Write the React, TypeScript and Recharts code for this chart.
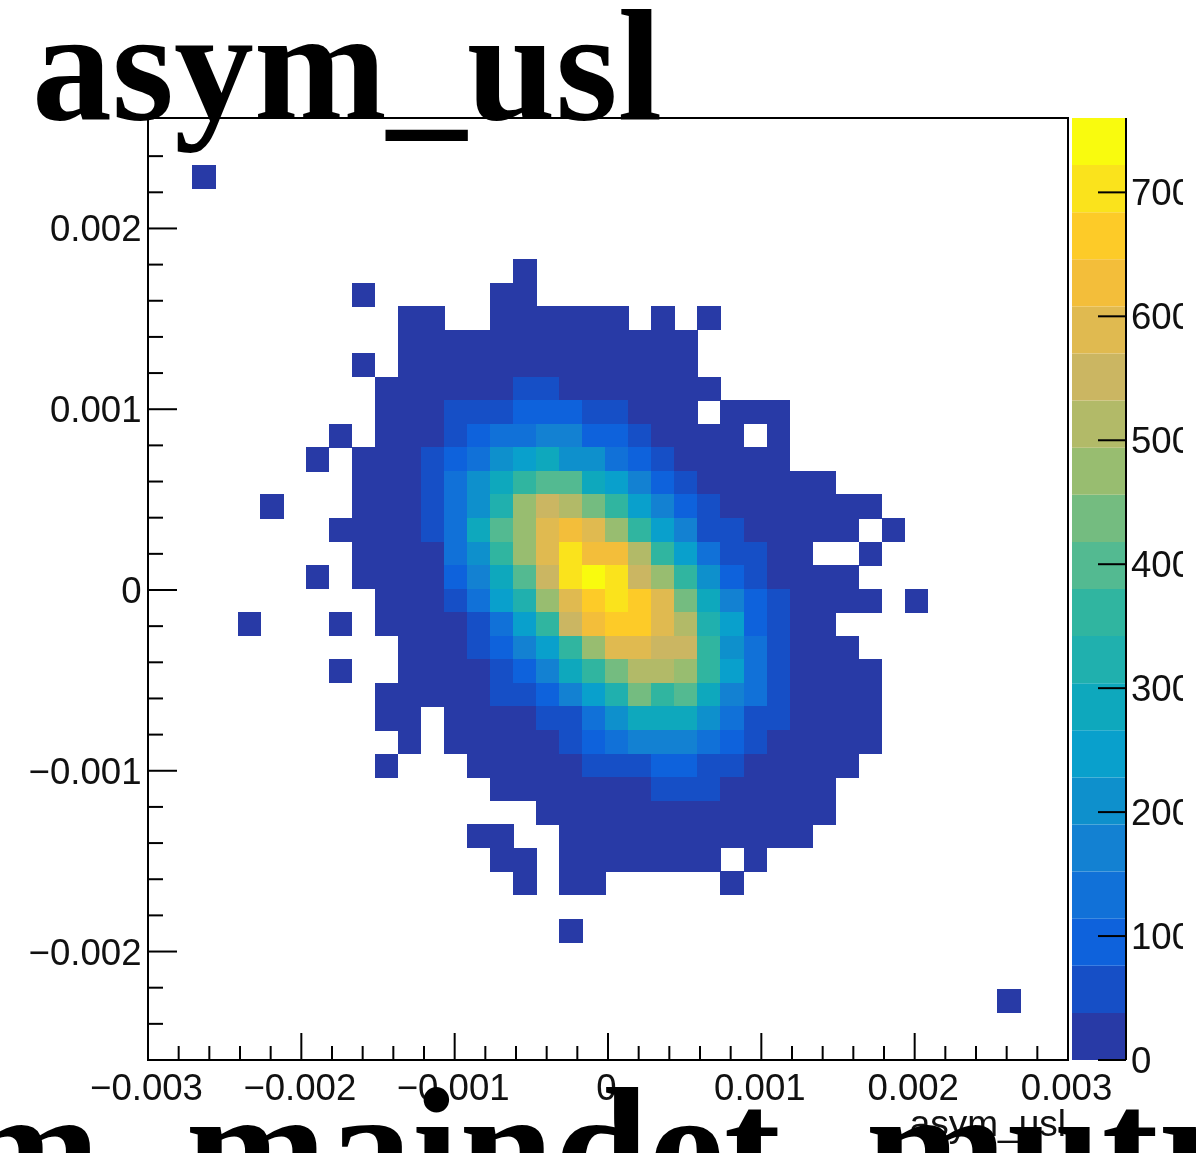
import React from 'react';
import { ScatterChart, Scatter, XAxis, YAxis, ReferenceArea, BarChart, Bar } from 'recharts';

const e = -1;

// Bin centres
const xBinCenters = [
  -0.002633, -0.002496, -0.002339, -0.002191, -0.002045, -0.001895, -0.001745, -0.001594, -0.001444,
  -0.001294, -0.001143, -0.000993, -0.000843, -0.000692, -0.000542, -0.000392, -0.000242, -0.000091,
  0.000059, 0.000209, 0.00036, 0.00051, 0.00066, 0.00081, 0.000961, 0.001111, 0.001261, 0.001412,
  0.001562, 0.001712, 0.001863, 0.002013, 0.002163, 0.002313, 0.002464, 0.002614,
];
const yBinCenters = [
  0.002546, 0.002416, 0.002286, 0.002155, 0.002025, 0.001895, 0.001764, 0.001634, 0.001504, 0.001374,
  0.001243, 0.001113, 0.000983, 0.000852, 0.000722, 0.000592, 0.000462, 0.000331, 0.000201, 0.000071,
  -0.00006, -0.00019, -0.00032, -0.00045, -0.000581, -0.000711, -0.000841, -0.000972, -0.001102, -0.001232,
  -0.001362, -0.001493, -0.001623, -0.001753, -0.001884, -0.002014, -0.002144, -0.002274, -0.002405, -0.002535,
];
const firstColumnOffset = 7;

// Contour band (0..19) of each filled bin: [row, first column, bands...]; e = empty bin
const rowBands: [number, number, number[]][] = [
  [2, -7, [0]],
  [6, 7, [0]],
  [7, 0, [0, e, e, e, e, e, 0, 0]],
  [8, 2, [0, 0, e, e, 0, 0, 0, 0, 0, 0, e, 0, e, 0]],
  [9, 2, [0, 0, 0, 0, 0, 0, 0, 0, 0, 0, 0, 0, 0]],
  [10, 0, [0, e, 0, 0, 0, 0, 0, 0, 0, 0, 0, 0, 0, 0, 0]],
  [11, 1, [0, 0, 0, 0, 0, 0, 1, 1, 0, 0, 0, 0, 0, 0, 0]],
  [12, 1, [0, 0, 0, 1, 1, 1, 2, 2, 2, 1, 1, 0, 0, 0, e, 0, 0, 0]],
  [13, -1, [0, e, 0, 0, 0, 1, 2, 3, 3, 4, 4, 2, 2, 1, 0, 0, 0, 0, e, 0]],
  [14, -2, [0, e, 0, 0, 0, 1, 2, 3, 5, 6, 7, 5, 5, 3, 2, 1, 0, 0, 0, 0, 0]],
  [15, 0, [0, 0, 0, 1, 3, 5, 7, 9, 10, 10, 7, 6, 4, 2, 1, 0, 0, 0, 0, 0, 0]],
  [16, -4, [0, e, e, e, 0, 0, 0, 1, 3, 5, 8, 12, 14, 13, 11, 9, 6, 4, 2, 1, 0, 0, 0, 0, 0, 0, 0]],
  [17, -1, [0, 0, 0, 0, 1, 3, 7, 10, 12, 15, 16, 15, 12, 9, 6, 4, 1, 1, 0, 0, 0, 0, 0, e, 0]],
  [18, 0, [0, 0, 0, 0, 3, 5, 9, 12, 15, 18, 16, 16, 13, 9, 6, 3, 1, 1, 0, 0, e, e, 0]],
  [19, -2, [0, e, 0, 0, 0, 0, 2, 4, 7, 10, 14, 18, 19, 18, 14, 12, 9, 5, 2, 1, 0, 0, 0, 0]],
  [20, 1, [0, 0, 0, 1, 3, 6, 8, 12, 15, 17, 18, 17, 15, 11, 7, 4, 2, 1, 0, 0, 0, 0, e, 0]],
  [21, -5, [0, e, e, e, 0, e, 0, 0, 0, 0, 1, 3, 6, 9, 14, 16, 17, 17, 15, 13, 8, 6, 2, 1, 0, 0]],
  [22, 2, [0, 0, 0, 1, 2, 4, 6, 9, 12, 15, 15, 14, 14, 9, 5, 3, 1, 0, 0, 0]],
  [23, -1, [0, e, e, 0, 0, 0, 0, 1, 2, 4, 7, 9, 11, 13, 13, 12, 9, 6, 3, 1, 0, 0, 0, 0]],
  [24, 1, [0, 0, 0, 0, 0, 1, 1, 2, 4, 6, 8, 11, 9, 10, 7, 4, 3, 1, 0, 0, 0, 0]],
  [25, 1, [0, 0, e, 0, 0, 0, 0, 1, 1, 3, 5, 7, 7, 7, 5, 3, 1, 1, 0, 0, 0, 0]],
  [26, 2, [0, e, 0, 0, 0, 0, 0, 1, 2, 3, 4, 4, 4, 3, 2, 1, 0, 0, 0, 0, 0]],
  [27, 1, [0, e, e, e, 0, 0, 0, 0, 0, 1, 1, 1, 2, 2, 1, 1, 0, 0, 0, 0, 0]],
  [28, 6, [0, 0, 0, 0, 0, 0, 0, 1, 1, 1, 0, 0, 0, 0, 0]],
  [29, 8, [0, 0, 0, 0, 0, 0, 0, 0, 0, 0, 0, 0, 0]],
  [30, 5, [0, 0, e, e, 0, 0, 0, 0, 0, 0, 0, 0, 0, 0, 0]],
  [31, 6, [0, 0, e, 0, 0, 0, 0, 0, 0, 0, e, 0]],
  [32, 7, [0, e, 0, 0, e, e, e, e, e, 0]],
  [34, 9, [0]],
  [37, 28, [0]],
];

// Count at the middle of each contour band
const bandCounts = [19, 57, 95, 133, 171, 209, 247, 285, 323, 361, 399, 437, 475, 513, 551, 589, 627, 665, 703, 741];
const bandColors = [
  '#283aa6', '#164fc6', '#0e62dc', '#1171d8', '#1381d2', '#0e90cc', '#09a0cc', '#0ea8bd', '#20b0ae', '#30b5a0',
  '#53ba91', '#74bc80', '#98bd70', '#b2ba68', '#cbb662', '#e0ba50', '#f3be3a', '#fdcb28', '#fae31c', '#f9fb0e',
];
const bandWidth = 38;

const xTicks = [
  -0.003, -0.0028, -0.0026, -0.0024, -0.0022, -0.002, -0.0018, -0.0016, -0.0014, -0.0012, -0.001, -0.0008, -0.0006,
  -0.0004, -0.0002, 0, 0.0002, 0.0004, 0.0006, 0.0008, 0.001, 0.0012, 0.0014, 0.0016, 0.0018, 0.002, 0.0022, 0.0024,
  0.0026, 0.0028, 0.003,
];
const yTicks = [
  -0.0024, -0.0022, -0.002, -0.0018, -0.0016, -0.0014, -0.0012, -0.001, -0.0008, -0.0006, -0.0004, -0.0002, 0, 0.0002,
  0.0004, 0.0006, 0.0008, 0.001, 0.0012, 0.0014, 0.0016, 0.0018, 0.002, 0.0022, 0.0024,
];
const zTicks = [0, 100, 200, 300, 400, 500, 600, 700];
const titleText = 'asym_usl';
const bottomTitleText = 'm_maindet_mutr';
const xAxisTitle = 'asym_usl';

const sans = '"Liberation Sans", Arial, sans-serif';
const serif = '"Liberation Serif", serif';
const labelSize = 36.6;

const cells = rowBands.flatMap(([row, first, bands]) =>
  bands.flatMap((band, i) =>
    band < 0
      ? []
      : [{ x: xBinCenters[first + i + firstColumnOffset], y: yBinCenters[row], count: bandCounts[band] }],
  ),
);

const isMajor = (v: number) => Math.abs(v * 1000 - Math.round(v * 1000)) < 1e-6;
const fmt = (v: number) => {
  if (Math.abs(v) < 1e-9) return '0';
  return (v < 0 ? '\u2212' : '') + Math.abs(v).toFixed(3);
};

const XTick = (p: any) => {
  const v = p.payload.value;
  const major = isMajor(v);
  return (
    <g>
      <line x1={p.x} x2={p.x} y1={1060} y2={1060 - (major ? 27 : 14)} stroke="#000" strokeWidth={2} />
      {major && (
        <text x={p.x - 1.5} y={1100} textAnchor="middle" fontFamily={sans} fontSize={labelSize} fill="#111">
          {fmt(v)}
        </text>
      )}
    </g>
  );
};

const YTick = (p: any) => {
  const v = p.payload.value;
  const major = isMajor(v);
  return (
    <g>
      <line x1={148} x2={148 + (major ? 29 : 15)} y1={p.y} y2={p.y} stroke="#000" strokeWidth={2} />
      {major && (
        <text x={141.5} y={p.y + 13} textAnchor="end" fontFamily={sans} fontSize={labelSize} fill="#111">
          {fmt(v)}
        </text>
      )}
    </g>
  );
};

const ZTick = (p: any) => (
  <g>
    <line x1={26} x2={54} y1={p.y} y2={p.y} stroke="#000" strokeWidth={2} />
    <text x={59} y={p.y + 13} textAnchor="start" fontFamily={sans} fontSize={labelSize} fill="#111">
      {p.payload.value}
    </text>
  </g>
);

const CellShape = (p: any) => {
  const w = 23.6;
  const h = 24.1;
  const band = Math.min(19, Math.floor(p.payload.count / bandWidth));
  const x0 = Math.round(p.cx - w / 2);
  const x1 = Math.round(p.cx + w / 2);
  const y0 = Math.round(p.cy - h / 2);
  const y1 = Math.round(p.cy + h / 2);
  return <rect x={x0} y={y0} width={x1 - x0} height={y1 - y0} fill={bandColors[band]} shapeRendering="crispEdges" />;
};

const colorbarRow: Record<string, number | string> = { name: 'z' };
bandColors.forEach((_, i) => {
  colorbarRow['b' + i] = bandWidth;
});

export default function App() {
  return (
    <div
      style={{
        position: 'absolute',
        left: 0,
        top: 0,
        width: 1196,
        height: 1153,
        overflow: 'hidden',
        background: '#fff',
        filter: 'blur(0.7px)',
      }}
    >
      <div style={{ position: 'absolute', left: 0, top: 0 }}>
        <ScatterChart width={1196} height={1153} margin={{ left: 88, right: 128, top: 118, bottom: 53 }}>
          <XAxis
            type="number"
            dataKey="x"
            domain={[-0.003, 0.003]}
            ticks={xTicks}
            interval={0}
            allowDataOverflow
            height={40}
            tick={XTick}
            tickLine={false}
            tickSize={0}
            tickMargin={0}
            axisLine={{ stroke: '#000', strokeWidth: 2 }}
          />
          <YAxis
            type="number"
            dataKey="y"
            domain={[-0.0026, 0.002611]}
            ticks={yTicks}
            interval={0}
            allowDataOverflow
            width={60}
            tick={YTick}
            tickLine={false}
            tickSize={0}
            tickMargin={0}
            axisLine={{ stroke: '#000', strokeWidth: 2 }}
          />
          <Scatter data={cells} isAnimationActive={false} shape={CellShape} />
          <ReferenceArea
            x1={-0.003}
            x2={0.003}
            y1={-0.0026}
            y2={0.002611}
            fill="none"
            stroke="#000"
            strokeWidth={2}
            ifOverflow="visible"
          />
        </ScatterChart>
      </div>
      <div style={{ position: 'absolute', left: 1072, top: 98 }}>
        <BarChart
          width={111}
          height={982}
          data={[colorbarRow]}
          margin={{ left: 0, right: 0, top: 20, bottom: 20 }}
          barCategoryGap={0}
        >
          <XAxis dataKey="name" hide />
          <YAxis
            orientation="right"
            type="number"
            domain={[0, 760]}
            ticks={zTicks}
            interval={0}
            width={57}
            tick={ZTick}
            tickLine={false}
            tickSize={0}
            tickMargin={0}
            axisLine={{ stroke: '#000', strokeWidth: 2 }}
          />
          {bandColors.map((c, i) => (
            <Bar key={i} dataKey={'b' + i} stackId="z" fill={c} isAnimationActive={false} />
          ))}
        </BarChart>
      </div>
      <svg width={1196} height={1153} style={{ position: 'absolute', left: 0, top: 0, pointerEvents: 'none' }}>
        <text x={1066} y={1136} textAnchor="end" fontFamily={sans} fontSize={37} fill="#111">
          {xAxisTitle}
        </text>
        <text
          x={32}
          y={119}
          fontFamily={serif}
          fontWeight="bold"
          fontSize={158}
          fill="#000"
          textLength={630}
          lengthAdjust="spacingAndGlyphs"
        >
          {titleText}
        </text>
        <text x={-41} y={1205} fontFamily={serif} fontWeight="bold" fontSize={170} fill="#000">
          {bottomTitleText}
        </text>
      </svg>
    </div>
  );
}
